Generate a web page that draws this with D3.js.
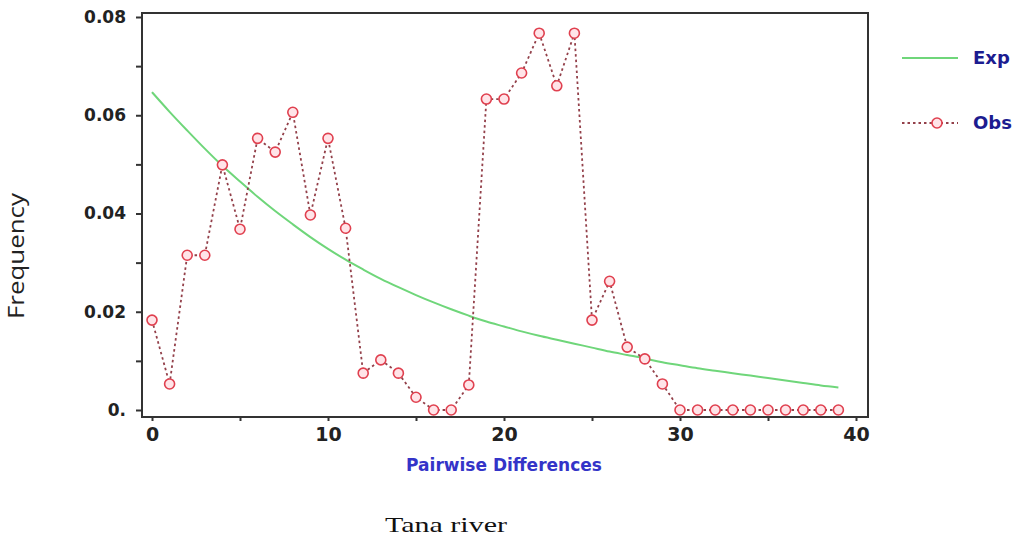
<!DOCTYPE html>
<html>
<head>
<meta charset="utf-8">
<script src="https://cdn.jsdelivr.net/npm/d3@7"></script>
<style>
  html, body { margin: 0; padding: 0; background: #fff; }
  svg { display: block; }
</style>
</head>
<body>
<svg id="chart" width="1013" height="541"></svg>
<script>
// Pairwise differences 0..39
const diffs = d3.range(0, 40);

// Observed mismatch frequencies
const obs = [
  0.0183, 0.0053, 0.0315, 0.0315, 0.0499, 0.0368, 0.0553, 0.0525, 0.0606, 0.0397,
  0.0553, 0.0370, 0.0075, 0.0102, 0.0075, 0.0026, 0.0000, 0.0000, 0.0051, 0.0633,
  0.0633, 0.0686, 0.0767, 0.0660, 0.0767, 0.0183, 0.0262, 0.0128, 0.0104, 0.0053,
  0.0000, 0.0000, 0.0000, 0.0000, 0.0000, 0.0000, 0.0000, 0.0000, 0.0000, 0.0000
];

// Expected frequencies
const expd = [
  0.0647, 0.0607, 0.0569, 0.0532, 0.0497, 0.0465, 0.0434, 0.0405, 0.0378, 0.0352,
  0.0328, 0.0306, 0.0286, 0.0267, 0.0250, 0.0234, 0.0219, 0.0205, 0.0192, 0.0180,
  0.0170, 0.0160, 0.0151, 0.0143, 0.0135, 0.0127, 0.0119, 0.0112, 0.0105, 0.0097,
  0.0091, 0.0085, 0.0080, 0.0075, 0.0070, 0.0065, 0.0060, 0.0055, 0.0050, 0.0046
];

const yTicks = [0, 0.01, 0.02, 0.03, 0.04, 0.05, 0.06, 0.07, 0.08];
const yTickLabels = { 0: "0.", 0.02: "0.02", 0.04: "0.04", 0.06: "0.06", 0.08: "0.08" };
const xTicks = [0, 5, 10, 15, 20, 25, 30, 35, 40];
const xTickLabels = { 0: "0", 10: "10", 20: "20", 30: "30", 40: "40" };

const svg = d3.select("#chart");

// plot frame
const frame = { left: 142, top: 13, right: 868, bottom: 417 };

const x = d3.scaleLinear().domain([0, 40]).range([152, 856]);
const y = d3.scaleLinear().domain([0, 0.08]).range([410, 17]);

const axisColor = "#333";

// frame box
svg.append("rect")
  .attr("x", frame.left).attr("y", frame.top)
  .attr("width", frame.right - frame.left)
  .attr("height", frame.bottom - frame.top)
  .attr("fill", "none")
  .attr("stroke", axisColor)
  .attr("stroke-width", 2);

// y axis
const yAxis = d3.axisLeft(y)
  .tickValues(yTicks)
  .tickSize(6)
  .tickPadding(10)
  .tickFormat(d => yTickLabels[d] || "");
const gy = svg.append("g")
  .attr("transform", `translate(${frame.left},0)`)
  .call(yAxis);
gy.select(".domain").remove();
gy.selectAll(".tick line").attr("stroke", axisColor).attr("stroke-width", 2);
gy.selectAll(".tick text")
  .attr("font-family", "DejaVu Sans")
  .attr("font-weight", "bold")
  .attr("font-size", 17)
  .attr("fill", "#222");

// x axis
const xAxis = d3.axisBottom(x)
  .tickValues(xTicks)
  .tickSize(4)
  .tickPadding(7)
  .tickFormat(d => xTickLabels[d] || "");
const gx = svg.append("g")
  .attr("transform", `translate(0,${frame.bottom})`)
  .call(xAxis);
gx.select(".domain").remove();
gx.selectAll(".tick line").attr("stroke", axisColor).attr("stroke-width", 2);
gx.selectAll(".tick text")
  .attr("font-family", "DejaVu Sans")
  .attr("font-weight", "bold")
  .attr("font-size", 19)
  .attr("fill", "#222");

// expected curve
const line = d3.line()
  .x((d, i) => x(diffs[i]))
  .y(d => y(d))
  .curve(d3.curveMonotoneX);

svg.append("path")
  .datum(expd)
  .attr("d", line)
  .attr("fill", "none")
  .attr("stroke", "#6fd67a")
  .attr("stroke-width", 2);

// observed line
const obsLine = d3.line()
  .x((d, i) => x(diffs[i]))
  .y(d => y(d));

const obsStroke = "#93404a";
const dotStroke = "#e0404f";

svg.append("path")
  .datum(obs)
  .attr("d", obsLine)
  .attr("fill", "none")
  .attr("stroke", obsStroke)
  .attr("stroke-width", 1.8)
  .attr("stroke-dasharray", "2.5,3");

svg.append("g")
  .selectAll("circle")
  .data(obs)
  .join("circle")
  .attr("cx", (d, i) => x(diffs[i]))
  .attr("cy", d => y(d))
  .attr("r", 5)
  .attr("fill", "#ffe4e8")
  .attr("stroke", dotStroke)
  .attr("stroke-width", 1.6);

// legend
const legend = svg.append("g");
legend.append("line")
  .attr("x1", 902).attr("x2", 958).attr("y1", 58).attr("y2", 58)
  .attr("stroke", "#6fd67a").attr("stroke-width", 2);
legend.append("text")
  .attr("x", 973).attr("y", 64)
  .attr("font-family", "DejaVu Sans").attr("font-weight", "bold")
  .attr("font-size", 18).attr("fill", "#1c1c90")
  .text("Exp");
legend.append("line")
  .attr("x1", 902).attr("x2", 958).attr("y1", 123).attr("y2", 123)
  .attr("stroke", obsStroke).attr("stroke-width", 1.8)
  .attr("stroke-dasharray", "2.5,3");
legend.append("circle")
  .attr("cx", 937).attr("cy", 123).attr("r", 5)
  .attr("fill", "#ffe4e8").attr("stroke", dotStroke).attr("stroke-width", 1.6);
legend.append("text")
  .attr("x", 973).attr("y", 129)
  .attr("font-family", "DejaVu Sans").attr("font-weight", "bold")
  .attr("font-size", 18).attr("fill", "#1c1c90")
  .text("Obs");

// axis titles
svg.append("text")
  .attr("x", 504).attr("y", 471)
  .attr("text-anchor", "middle")
  .attr("font-family", "DejaVu Sans").attr("font-weight", "bold")
  .attr("font-size", 17).attr("fill", "#3434c8")
  .text("Pairwise Differences");

svg.append("text")
  .attr("transform", "translate(24,256) rotate(-90)")
  .attr("text-anchor", "middle")
  .attr("font-family", "Open Sans")
  .attr("font-size", 21).attr("fill", "#222")
  .attr("textLength", 126).attr("lengthAdjust", "spacingAndGlyphs")
  .text("Frequency");

// caption
svg.append("text")
  .attr("x", 385).attr("y", 532)
  .attr("font-family", "Liberation Serif")
  .attr("font-size", 22).attr("fill", "#111")
  .attr("textLength", 122).attr("lengthAdjust", "spacingAndGlyphs")
  .text("Tana river");
</script>
</body>
</html>
